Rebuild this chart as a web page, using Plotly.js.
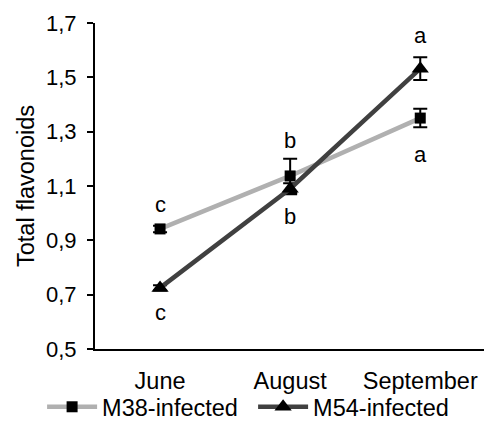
<!DOCTYPE html>
<html>
<head>
<meta charset="utf-8">
<script src="https://cdn.plot.ly/plotly-3.0.1.min.js"></script>
<style>html,body{margin:0;padding:0;background:#fff}#chart{width:484px;height:429px}</style>
</head>
<body>
<div id="chart"></div>
<script>
var months = ['June', 'August', 'September'];
var m38Values = [0.942, 1.137, 1.350];
var m38Errors = [0.012, 0.063, 0.034];
var m54Values = [0.725, 1.090, 1.532];
var m54Errors = [0.010, 0.020, 0.042];
var m38Letters = ['c', 'b', 'a'];
var m54Letters = ['c', 'b', 'a'];
var yTickVals = [0.5, 0.7, 0.9, 1.1, 1.3, 1.5, 1.7];
var yTickText = ['0,5', '0,7', '0,9', '1,1', '1,3', '1,5', '1,7'];

var m38Shift = [24, 35, -36];
var m54Shift = [-25, -28, 33];

var fam = 'Liberation Sans, Arial, sans-serif';
var fontBig = {family: fam, size: 23.5, color: '#000'};
var fontTick = {family: fam, size: 22, color: '#000'};
var fontLetter = {family: fam, size: 22, color: '#000'};

var traces = [
  {
    x: months, y: m38Values, name: 'M38-infected', type: 'scatter', mode: 'lines+markers',
    line: {color: '#b0b0b0', width: 4.5},
    marker: {symbol: 'square', size: 11, color: '#000'},
    error_y: {type: 'data', array: m38Errors, visible: true, color: '#000', thickness: 2, width: 7}
  },
  {
    x: months, y: m54Values, name: 'M54-infected', type: 'scatter', mode: 'lines+markers',
    line: {color: '#404040', width: 4.5},
    marker: {symbol: 'triangle-up', size: 15, color: '#000'},
    error_y: {type: 'data', array: m54Errors, visible: true, color: '#000', thickness: 2, width: 7}
  }
];

var annotations = [];
months.forEach(function (m, i) {
  annotations.push({x: m, y: m38Values[i], xref: 'x', yref: 'y', text: m38Letters[i], showarrow: false, yshift: m38Shift[i], font: fontLetter});
  annotations.push({x: m, y: m54Values[i], xref: 'x', yref: 'y', text: m54Letters[i], showarrow: false, yshift: m54Shift[i], font: fontLetter});
});

var layout = {
  width: 484, height: 429,
  margin: {l: 95, r: 0, t: 23, b: 80},
  paper_bgcolor: '#fff', plot_bgcolor: '#fff',
  font: fontBig,
  showlegend: true,
  legend: {orientation: 'h', xref: 'paper', yref: 'paper', x: -0.136, xanchor: 'left', y: -0.2454, yanchor: 'bottom',
           font: fontBig, itemwidth: 50, entrywidth: 146, entrywidthmode: 'pixels', tracegroupgap: 0, bgcolor: 'rgba(0,0,0,0)'},
  xaxis: {
    type: 'category', range: [-0.5, 2.49], showline: true, linecolor: '#000', linewidth: 2,
    showgrid: false, zeroline: false, ticks: '', tickfont: fontBig, ticklabelstandoff: 10
  },
  yaxis: {
    range: [0.5, 1.7], tickvals: yTickVals, ticktext: yTickText, showline: true, linecolor: '#000', linewidth: 2,
    showgrid: false, zeroline: false, ticks: 'outside', ticklen: 6, tickwidth: 2, tickcolor: '#000', tickfont: fontTick,
    ticklabelstandoff: 6,
    title: {text: 'Total flavonoids', font: fontBig, standoff: 5}
  },
  annotations: annotations
};

Plotly.newPlot('chart', traces, layout, {displayModeBar: false, staticPlot: true});
</script>
</body>
</html>
